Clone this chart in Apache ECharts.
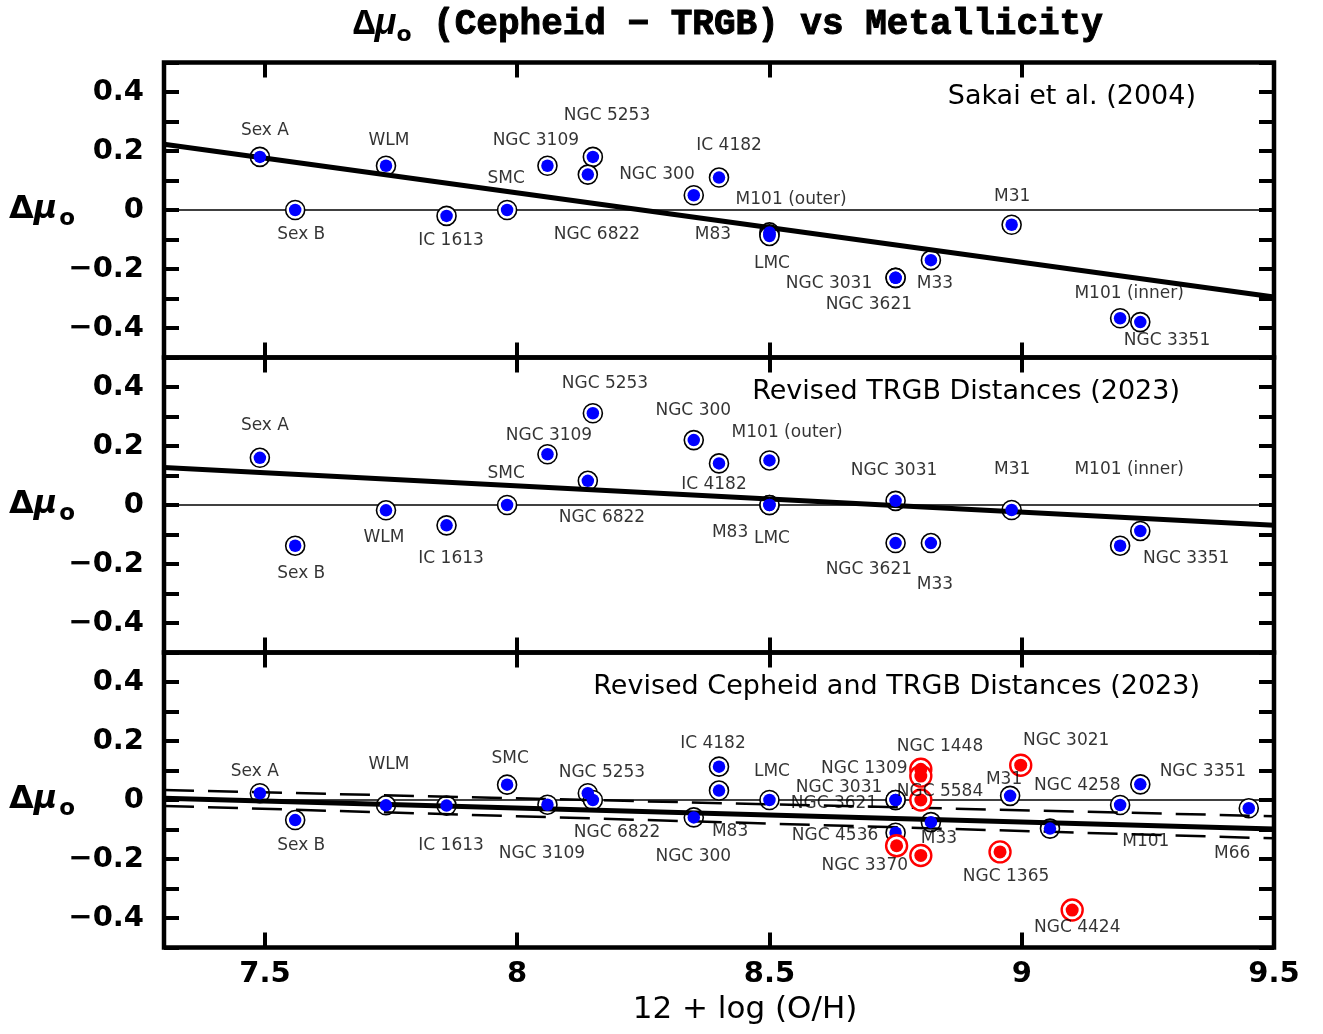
<!DOCTYPE html>
<html><head><meta charset="utf-8">
<script src="https://cdn.jsdelivr.net/npm/echarts@6/dist/echarts.min.js"></script>
<style>html,body{margin:0;padding:0;background:#fff}#c{width:1323px;height:1034px}</style>
</head><body><div id="c"></div>
<script>
// ---------- axis / tick data ----------
const xRange = [7.3, 9.5];
const xMajorTicks = [7.5, 8, 8.5, 9];
const xTickLabels = [7.5, 8, 8.5, 9, 9.5];
const yRange = [-0.5, 0.5];
const yTickLabels = [-0.4, -0.2, 0, 0.2, 0.4];
const panelTitles = ['Sakai et al. (2004)', 'Revised TRGB Distances (2023)', 'Revised Cepheid and TRGB Distances (2023)'];

// ---------- panel 1: Sakai et al. (2004)  [name, 12+log(O/H), delta mu] ----------
const sakaiPoints = [
  ['Sex A', 7.49, 0.18], ['Sex B', 7.56, 0.00], ['WLM', 7.74, 0.15], ['IC 1613', 7.86, -0.02],
  ['SMC', 7.98, 0.00], ['NGC 3109', 8.06, 0.15], ['NGC 5253', 8.15, 0.18], ['NGC 6822', 8.14, 0.12],
  ['NGC 300', 8.35, 0.05], ['IC 4182', 8.40, 0.11], ['M83', 8.50, -0.076], ['M101 (outer)', 8.50, -0.082],
  ['LMC', 8.50, -0.088], ['NGC 3031', 8.75, -0.23], ['NGC 3621', 8.75, -0.23], ['M33', 8.82, -0.17],
  ['M31', 8.98, -0.05], ['M101 (inner)', 9.195, -0.367], ['NGC 3351', 9.235, -0.38]
];
const sakaiLabels = [
  ['Sex A', 7.50, 0.268], ['WLM', 7.746, 0.237], ['NGC 3109', 8.037, 0.237], ['NGC 5253', 8.178, 0.319],
  ['SMC', 7.978, 0.108], ['NGC 300', 8.277, 0.119], ['IC 4182', 8.42, 0.217], ['M101 (outer)', 8.543, 0.034],
  ['M31', 8.981, 0.047], ['Sex B', 7.572, -0.085], ['IC 1613', 7.869, -0.102], ['NGC 6822', 8.158, -0.085],
  ['M83', 8.388, -0.085], ['LMC', 8.505, -0.183], ['NGC 3031', 8.618, -0.251], ['M33', 8.828, -0.251],
  ['NGC 3621', 8.697, -0.322], ['M101 (inner)', 9.213, -0.285], ['NGC 3351', 9.288, -0.441]
];
const sakaiFit = [[7.3, 0.223], [9.5, -0.295]];

// ---------- panel 2: Revised TRGB distances (2023) ----------
const trgbPoints = [
  ['Sex A', 7.49, 0.16], ['Sex B', 7.56, -0.138], ['WLM', 7.74, -0.018], ['IC 1613', 7.86, -0.069],
  ['SMC', 7.98, 0.00], ['NGC 3109', 8.06, 0.172], ['NGC 5253', 8.15, 0.311], ['NGC 6822', 8.14, 0.082],
  ['NGC 300', 8.35, 0.22], ['IC 4182', 8.40, 0.141], ['M101 (outer)', 8.50, 0.151], ['M83', 8.50, 0.00],
  ['LMC', 8.50, 0.00], ['NGC 3031', 8.75, 0.014], ['NGC 3621', 8.75, -0.129], ['M33', 8.82, -0.129],
  ['M31', 8.98, -0.017], ['M101 (inner)', 9.195, -0.138], ['NGC 3351', 9.235, -0.088]
];
const trgbLabels = [
  ['NGC 5253', 8.174, 0.41], ['Sex A', 7.50, 0.268], ['NGC 3109', 8.063, 0.237], ['NGC 300', 8.349, 0.319],
  ['M101 (outer)', 8.535, 0.247], ['SMC', 7.978, 0.108], ['IC 4182', 8.39, 0.068], ['NGC 3031', 8.747, 0.115],
  ['M31', 8.981, 0.119], ['M101 (inner)', 9.213, 0.119], ['NGC 6822', 8.168, -0.041], ['WLM', 7.736, -0.112],
  ['M83', 8.422, -0.092], ['LMC', 8.505, -0.115], ['IC 1613', 7.869, -0.18], ['NGC 3351', 9.326, -0.18],
  ['Sex B', 7.572, -0.231], ['NGC 3621', 8.697, -0.22], ['M33', 8.828, -0.271]
];
const trgbFit = [[7.3, 0.127], [9.5, -0.069]];

// ---------- panel 3: Revised Cepheid and TRGB distances (2023) ----------
const revisedCepheid = [
  ['Sex A', 7.49, 0.023], ['Sex B', 7.56, -0.068], ['WLM', 7.74, -0.018], ['IC 1613', 7.86, -0.019],
  ['SMC', 7.98, 0.052], ['NGC 3109', 8.06, -0.016], ['NGC 5253', 8.14, 0.023], ['NGC 6822', 8.15, 0.00],
  ['NGC 300', 8.35, -0.059], ['IC 4182', 8.40, 0.113], ['M83', 8.40, 0.032], ['LMC', 8.50, 0.00],
  ['NGC 3031', 8.75, 0.00], ['NGC 3621', 8.75, 0.00], ['NGC 4536', 8.75, -0.111], ['M33', 8.82, -0.075],
  ['M31', 8.977, 0.014], ['M101', 9.056, -0.097], ['NGC 4258', 9.195, -0.017], ['NGC 3351', 9.235, 0.053],
  ['M66', 9.45, -0.028]
];
const revisedSNHosts = [
  ['NGC 1309', 8.80, 0.104], ['NGC 1448', 8.80, 0.081], ['NGC 5584', 8.80, 0.00], ['NGC 4536', 8.752, -0.155],
  ['NGC 3370', 8.80, -0.188], ['NGC 3021', 8.998, 0.118], ['NGC 1365', 8.957, -0.176], ['NGC 4424', 9.10, -0.373]
];
const revisedLabels = [
  ['IC 4182', 8.388, 0.19], ['NGC 1448', 8.838, 0.18], ['NGC 3021', 9.088, 0.20], ['SMC', 7.986, 0.139],
  ['WLM', 7.746, 0.119], ['Sex A', 7.48, 0.098], ['NGC 5253', 8.168, 0.092], ['LMC', 8.505, 0.098],
  ['NGC 1309', 8.688, 0.108], ['NGC 3351', 9.359, 0.098], ['M31', 8.965, 0.068], ['NGC 3031', 8.638, 0.041],
  ['NGC 4258', 9.11, 0.048], ['NGC 5584', 8.838, 0.028], ['NGC 3621', 8.628, -0.012], ['Sex B', 7.572, -0.153],
  ['IC 1613', 7.869, -0.153], ['NGC 3109', 8.049, -0.182], ['NGC 6822', 8.198, -0.112], ['M83', 8.422, -0.108],
  ['NGC 300', 8.349, -0.193], ['NGC 4536', 8.63, -0.122], ['M33', 8.836, -0.13], ['M101', 9.246, -0.142],
  ['M66', 9.417, -0.18], ['NGC 3370', 8.689, -0.222], ['NGC 1365', 8.969, -0.261], ['NGC 4424', 9.11, -0.431]
];
const revisedFit = [[7.3, 0.006], [9.5, -0.098]];
const revisedUpper = [[7.3, 0.034], [9.5, -0.055]];
const revisedLower = [[7.3, -0.020], [9.5, -0.130]];
const zeroLine = [[7.3, 0], [9.5, 0]];

// ---------- build ----------
const SANS = 'DejaVu Sans';
const gridTops = [62.5, 357.5, 652.5];
const grids = gridTops.map(top => ({
  left: 164, width: 1110, top: top, height: 295, containLabel: false, outerBoundsMode: 'none',
  show: true, borderColor: '#000', borderWidth: 4.5, backgroundColor: 'rgba(0,0,0,0)'
}));

const tickStyle = { color: '#000', width: 4 };
const hiddenLine = { show: true, onZero: false, lineStyle: { color: 'rgba(0,0,0,0)', width: 1 } };
const xAxes = [], yAxes = [];
const ySym = {
  d: { fontFamily: SANS, fontWeight: 'bold', fontSize: 32, color: '#000' },
  m: { fontFamily: SANS, fontWeight: 'bold', fontStyle: 'italic', fontSize: 32, color: '#000' },
  s: { fontFamily: SANS, fontWeight: 'bold', fontSize: 23, color: '#000', padding: [18, 0, 0, 2] }
};
for (let i = 0; i < 3; i++) {
  const isLast = i === 2;
  xAxes.push({
    type: 'value', gridIndex: i, position: 'bottom', min: xRange[0], max: xRange[1],
    axisLine: hiddenLine, splitLine: { show: false },
    axisTick: { show: true, inside: true, length: 15, customValues: xMajorTicks, lineStyle: tickStyle },
    axisLabel: isLast ? {
      show: true, customValues: xTickLabels, margin: 12, formatter: v => String(v),
      fontFamily: SANS, fontWeight: 'bold', fontSize: 29, color: '#000'
    } : { show: false },
    name: isLast ? '12 + log (O/H)' : '', nameLocation: 'middle', nameGap: 47, nameMoveOverlap: false,
    nameTextStyle: { fontFamily: SANS, fontSize: 31, color: '#000', padding: [0, 0, 0, 52] }
  });
  xAxes.push({
    type: 'value', gridIndex: i, position: 'top', min: xRange[0], max: xRange[1],
    axisLine: hiddenLine, splitLine: { show: false },
    axisTick: { show: true, inside: true, length: 15, customValues: xMajorTicks, lineStyle: tickStyle },
    axisLabel: { show: false }
  });
  yAxes.push({
    type: 'value', gridIndex: i, position: 'left', min: yRange[0], max: yRange[1], interval: 0.1,
    axisLine: hiddenLine, splitLine: { show: false },
    axisTick: { show: true, inside: true, length: 15, lineStyle: tickStyle },
    axisLabel: {
      show: true, customValues: yTickLabels, margin: 20,
      formatter: v => String(v).replace('-', '\u2212'),
      fontFamily: SANS, fontWeight: 'bold', fontSize: 29, color: '#000'
    },
    name: '{d|\u0394}{m|\u03bc}{s|o}', nameLocation: 'middle', nameRotate: 0, nameGap: 89, nameMoveOverlap: false,
    nameTextStyle: { align: 'right', verticalAlign: 'middle', rich: ySym }
  });
  yAxes.push({
    type: 'value', gridIndex: i, position: 'right', min: yRange[0], max: yRange[1], interval: 0.1,
    axisLine: hiddenLine, splitLine: { show: false },
    axisTick: { show: true, inside: true, length: 15, lineStyle: tickStyle },
    axisLabel: { show: false }
  });
}

function pts(list) { return list.map(d => ({ name: d[0], value: [d[1], d[2]] })); }
function lineSeries(i, data, width, dashed, z) {
  return {
    type: 'line', xAxisIndex: 2 * i, yAxisIndex: 2 * i, data: data, symbol: 'none', silent: true, z: z,
    lineStyle: { color: '#000', width: width, type: dashed ? [30, 14] : 'solid' }, animation: false
  };
}
function ringSeries(i, list, color, size, bw, z) {
  return {
    type: 'scatter', xAxisIndex: 2 * i, yAxisIndex: 2 * i, data: pts(list), symbol: 'circle', symbolSize: size, z: z,
    itemStyle: { color: '#fff', borderColor: color, borderWidth: bw, opacity: 1 }, silent: true
  };
}
function dotSeries(i, list, color, size, z) {
  return {
    type: 'scatter', xAxisIndex: 2 * i, yAxisIndex: 2 * i, data: pts(list), symbol: 'circle', symbolSize: size, z: z,
    itemStyle: { color: color, opacity: 1 }, silent: true
  };
}
function labelSeries(i, list) {
  return {
    type: 'scatter', xAxisIndex: 2 * i, yAxisIndex: 2 * i, data: pts(list), symbolSize: 1, z: 20, silent: true,
    itemStyle: { color: 'rgba(0,0,0,0)' },
    label: { show: true, position: 'inside', formatter: '{b}', color: '#000', fontFamily: SANS, fontSize: 17 }
  };
}

const BLUE = '#0000ff', RED = '#ff0000';
const series = [];
const panels = [
  { blue: sakaiPoints, red: [], labels: sakaiLabels, fits: [[sakaiFit, 5, false]] },
  { blue: trgbPoints, red: [], labels: trgbLabels, fits: [[trgbFit, 5, false]] },
  { blue: revisedCepheid, red: revisedSNHosts, labels: revisedLabels,
    fits: [[revisedFit, 5, false], [revisedUpper, 2.5, true], [revisedLower, 2.5, true]] }
];
panels.forEach((p, i) => {
  series.push(lineSeries(i, zeroLine, 1.6, false, 2));
  series.push(ringSeries(i, p.blue, '#000', 19, 1.6, 3));
  p.fits.forEach(f => series.push(lineSeries(i, f[0], f[1], f[2], 4)));
  series.push(dotSeries(i, p.blue, BLUE, 12.5, 5));
  if (p.red.length) {
    series.push(ringSeries(i, p.red, RED, 21, 2.4, 6));
    series.push(dotSeries(i, p.red, RED, 13, 7));
  }
  series.push(labelSeries(i, p.labels));
});

const titles = [{
  text: '{d|\u0394}{m|\u03bc}{s|o}{t| (Cepheid \u2212 TRGB) vs Metallicity}',
  left: 728, top: 4, textAlign: 'center', padding: 0,
  textStyle: {
    rich: {
      d: { fontFamily: 'Liberation Mono', fontWeight: 'bold', fontSize: 36, color: '#000' },
      m: { fontFamily: 'Liberation Mono', fontWeight: 'bold', fontStyle: 'italic', fontSize: 36, color: '#000' },
      s: { fontFamily: SANS, fontWeight: 'bold', fontSize: 22, color: '#000', padding: [20, 0, 0, 0] },
      t: { fontFamily: 'Liberation Mono', fontWeight: 'bold', fontSize: 36, color: '#000',
           textBorderColor: '#000', textBorderWidth: 1 }
    }
  }
}];
const titleRight = [127, 143, 123];
const titleTop = [83, 378, 673];
panelTitles.forEach((t, i) => titles.push({
  text: t, right: titleRight[i], top: titleTop[i], padding: 0,
  textStyle: { fontFamily: SANS, fontSize: 27, fontWeight: 'normal', color: '#000' }
}));

const chart = echarts.init(document.getElementById('c'), null, { renderer: 'canvas' });
chart.setOption({
  animation: false,
  backgroundColor: '#fff',
  title: titles,
  grid: grids,
  xAxis: xAxes,
  yAxis: yAxes,
  series: series
});
</script></body></html>
